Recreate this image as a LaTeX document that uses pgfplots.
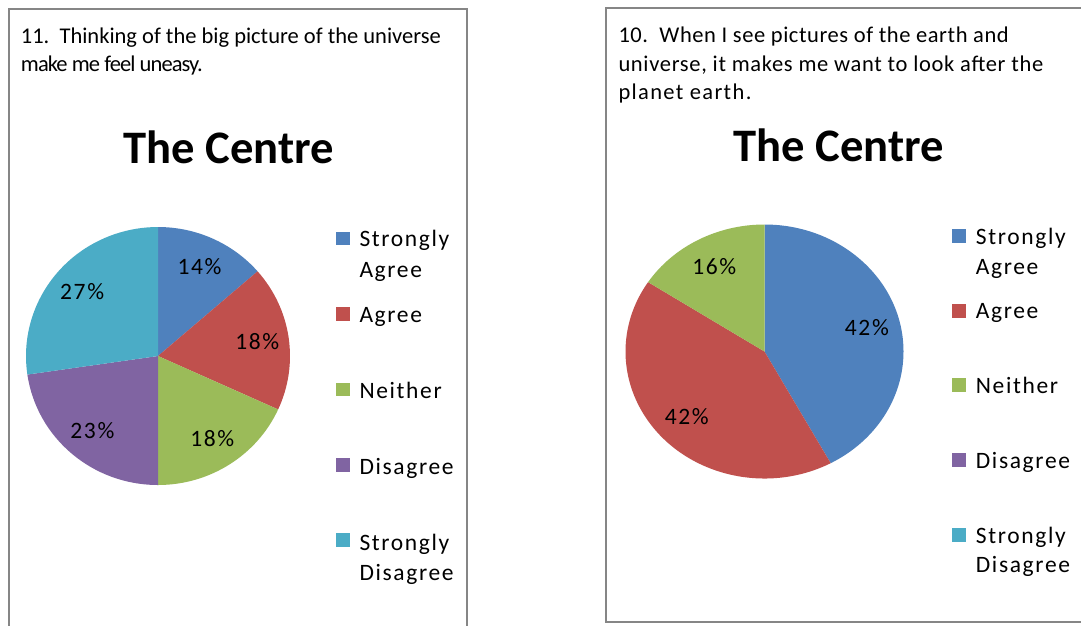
\documentclass[border=0pt]{standalone}
\usepackage{fontspec}
\setmainfont{Carlito}
\newfontfamily\lsfont{Carlito}[LetterSpace=7]
% the question lines are set with slightly different tracking, as in the source
\newfontfamily\lsA{Carlito}[LetterSpace=0]
\newfontfamily\lsB{Carlito}[LetterSpace=-4]
\newfontfamily\lsC{Carlito}[LetterSpace=2.5]
\newfontfamily\lsD{Carlito}[LetterSpace=3]
\newfontfamily\lsE{Carlito}[LetterSpace=6]
\usepackage{pgfplots}
\usepackage{pgfplotstable}
\pgfplotsset{compat=1.18}

\definecolor{cSA}{RGB}{79,129,189}
\definecolor{cA}{RGB}{192,80,77}
\definecolor{cN}{RGB}{155,187,89}
\definecolor{cD}{RGB}{128,100,162}
\definecolor{cSD}{RGB}{75,172,198}
\definecolor{frame}{RGB}{134,134,134}

\newcommand\qsize{\fontsize{22.5}{28}\selectfont}
\newcommand\legfont{\lsfont\fontsize{23.5}{28}\selectfont}
\newcommand\pielabel{\lsfont\fontsize{23.5}{28}\selectfont}
\newcommand\ttlfont{\fontsize{46.6}{50}\selectfont\bfseries}

% 11. Thinking of the big picture of the universe make me feel uneasy.
\pgfplotstableread{
share colour
13.6 cSA
18.2 cA
18.2 cN
22.7 cD
27.3 cSD
}\qeleven

% 10. When I see pictures of the earth and universe ...
\pgfplotstableread{
share colour
42.1 cSA
42.1 cA
15.8 cN
}\qten

% slices clockwise from 12 o'clock, labels at 0.76 of the radius
\newcommand{\drawpie}[1]{%
  \pgfplotstablegetrowsof{#1}%
  \pgfmathtruncatemacro\lastrow{\pgfplotsretval-1}%
  \def\startang{90}%
  \pgfplotsforeachungrouped \pieidx in {0,...,\lastrow}{%
    \pgfplotstablegetelem{\pieidx}{share}\of#1\let\val\pgfplotsretval
    \pgfplotstablegetelem{\pieidx}{colour}\of#1\let\col\pgfplotsretval
    \pgfmathsetmacro\endang{\startang-3.6*\val}%
    \pgfmathsetmacro\midang{(\startang+\endang)/2}%
    \pgfmathsetmacro\lx{0.76*cos(\midang)}%
    \pgfmathsetmacro\ly{0.76*sin(\midang)}%
    \pgfmathsetmacro\sx{cos(\startang)}%
    \pgfmathsetmacro\sy{sin(\startang)}%
    \pgfmathtruncatemacro\lab{round(\val)}%
    \edef\temp{%
      \noexpand\fill[\col] (axis cs:0,0) -- (axis cs:\sx,\sy)
        arc[start angle=\startang,end angle=\endang,radius=1] -- cycle;%
      \noexpand\node[font=\noexpand\pielabel,inner sep=0pt] at (axis cs:\lx,\ly) {\lab\noexpand\%};%
    }\temp
    \let\startang\endang
  }%
}

\begin{document}
\begin{tikzpicture}[x=1pt,y=1pt]
\useasboundingbox (0,0) rectangle (1081,-625);
\clip (0,0) rectangle (1081,-625);
\fill[white] (0,0) rectangle (1081,-625);

% ---- left panel
\draw[frame,line width=2] (9,-9) rectangle (467,-660);
\node[anchor=base west,inner sep=0pt,font=\lsA\qsize] at (20.7,-43.3) {11.\ \ Thinking of the big picture of the universe};
\node[anchor=base west,inner sep=0pt,font=\lsB\qsize] at (20.7,-71.7) {make me feel uneasy.};
\node[anchor=base,inner sep=0pt,font=\ttlfont] at (229,-163.3) {The Centre};

\begin{axis}[at={(158pt,-356pt)},anchor=center,hide axis,scale only axis,
  width=264pt,height=258pt,xmin=-1,xmax=1,ymin=-1,ymax=1,clip=false]
\drawpie{\qeleven}
\end{axis}

\fill[cSA] (336,-231.7) rectangle ++(13.5,-13.5);
\fill[cA]  (336,-307.3) rectangle ++(13.5,-13.5);
\fill[cN]  (336,-382.7) rectangle ++(13.5,-13.5);
\fill[cD]  (336,-458.3) rectangle ++(13.5,-13.5);
\fill[cSD] (336,-533.3) rectangle ++(13.5,-13.5);
\begin{scope}[every node/.style={anchor=base west,inner sep=0pt,font=\legfont}]
\node at (359.3,-246.7) {Strongly};
\node at (359.3,-277.3) {Agree};
\node at (359.3,-322.7) {Agree};
\node at (359.3,-398.3) {Neither};
\node at (359.3,-474.0) {Disagree};
\node at (359.3,-550.7) {Strongly};
\node at (359.3,-580.7) {Disagree};
\end{scope}

% ---- right panel
\draw[frame,line width=2] (606,-8) rectangle (1110,-622);
\node[anchor=base west,inner sep=0pt,font=\lsC\qsize] at (618.3,-42.7) {10.\ \ When I see pictures of the earth and};
\node[anchor=base west,inner sep=0pt,font=\lsD\qsize] at (618.3,-71.0) {universe, it makes me want to look after the};
\node[anchor=base west,inner sep=0pt,font=\lsE\qsize] at (618.3,-99.5) {planet earth.};
\node[anchor=base,inner sep=0pt,font=\ttlfont] at (838.5,-161) {The Centre};

\begin{axis}[at={(764.5pt,-351.5pt)},anchor=center,hide axis,scale only axis,
  width=278pt,height=254pt,xmin=-1,xmax=1,ymin=-1,ymax=1,clip=false]
\drawpie{\qten}
\end{axis}

\fill[cSA] (951.5,-228.5) rectangle ++(14,-14);
\fill[cA]  (951.5,-303.5) rectangle ++(14,-14);
\fill[cN]  (951.5,-377.7) rectangle ++(14,-14);
\fill[cD]  (951.5,-452.7) rectangle ++(14,-14);
\fill[cSD] (951.5,-527.7) rectangle ++(14,-14);
\begin{scope}[every node/.style={anchor=base west,inner sep=0pt,font=\legfont}]
\node at (975.7,-244.3) {Strongly};
\node at (975.7,-274.0) {Agree};
\node at (975.7,-318.3) {Agree};
\node at (975.7,-393.3) {Neither};
\node at (975.7,-468.3) {Disagree};
\node at (975.7,-543.3) {Strongly};
\node at (975.7,-572.7) {Disagree};
\end{scope}
\end{tikzpicture}
\end{document}
